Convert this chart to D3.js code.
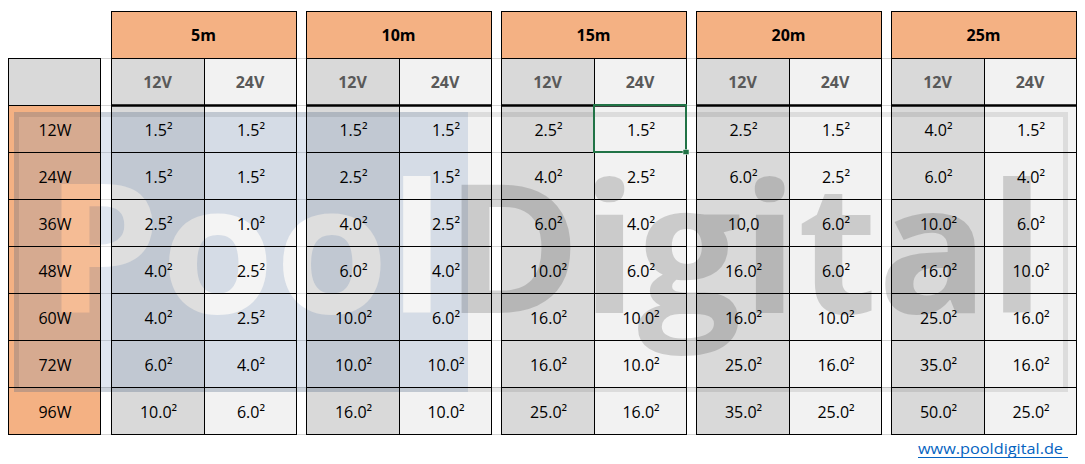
<!DOCTYPE html>
<html>
<head>
<meta charset="utf-8">
<script src="https://cdn.jsdelivr.net/npm/d3@7"></script>
<style>
body { margin: 0; background: #fff; }
text { font-family: "Open Sans", sans-serif; }
</style>
</head>
<body>
<svg id="chart" width="1085" height="464"></svg>
<script>
// table data (cable cross-section per lamp power / cable length / voltage)
var rowLabels = ["12W", "24W", "36W", "48W", "60W", "72W", "96W"];
var lengths = ["5m", "10m", "15m", "20m", "25m"];
var voltages = ["12V", "24V"];

// one list per length, top row to bottom row
var values12V = [
    ["1.5²", "1.5²", "2.5²", "4.0²", "4.0²", "6.0²", "10.0²"],
    ["1.5²", "2.5²", "4.0²", "6.0²", "10.0²", "10.0²", "16.0²"],
    ["2.5²", "4.0²", "6.0²", "10.0²", "16.0²", "16.0²", "25.0²"],
    ["2.5²", "6.0²", "10,0", "16.0²", "16.0²", "25.0²", "35.0²"],
    ["4.0²", "6.0²", "10.0²", "16.0²", "25.0²", "35.0²", "50.0²"]
];
var values24V = [
    ["1.5²", "1.5²", "1.0²", "2.5²", "2.5²", "4.0²", "6.0²"],
    ["1.5²", "1.5²", "2.5²", "4.0²", "6.0²", "10.0²", "10.0²"],
    ["1.5²", "2.5²", "4.0²", "6.0²", "10.0²", "10.0²", "16.0²"],
    ["1.5²", "2.5²", "6.0²", "6.0²", "10.0²", "16.0²", "25.0²"],
    ["1.5²", "4.0²", "6.0²", "10.0²", "16.0²", "16.0²", "25.0²"]
];
var watermarkWords = ["Pool", "Digital"];
var linkText = "www.pooldigital.de";
var selectedCell = {length: "15m", voltage: "24V", row: "12W"};

var orange = "#F4B183", gray = "#D9D9D9", light = "#F2F2F2";

var svg = d3.select("#chart");

var x = d3.scaleBand().domain(lengths).range([111, 1076]).paddingInner(10 / 195);
var xv = d3.scaleBand().domain(voltages).range([0, x.bandwidth()]);
var head = d3.scaleBand().domain(["length", "voltage"]).range([11, 105]);
var y = d3.scaleBand().domain(rowLabels).range([105, 434]);
var labelX = 8, labelW = 92;

// flatten the table into cells
var cells = [];
lengths.forEach(function(len, li) {
    voltages.forEach(function(v) {
        var vals = v === "12V" ? values12V[li] : values24V[li];
        rowLabels.forEach(function(r, ri) {
            cells.push({length: len, voltage: v, row: r, text: vals[ri]});
        });
    });
});
function cx(d) { return Math.round(x(d.length) + xv(d.voltage)); }
function cw(d) { return Math.round(x(d.length) + xv(d.voltage) + xv.bandwidth()) - cx(d); }

// faint sheet gridlines in the gaps
var gridG = svg.append("g");
var gaps = [[labelX + labelW, x(lengths[0])]];
lengths.slice(1).forEach(function(len, i) {
    gaps.push([x(lengths[i]) + x.bandwidth(), x(len)]);
});
var gridYs = [head("voltage"), y(rowLabels[0])].concat(rowLabels.map(function(r) { return y(r) + y.bandwidth(); }));
gaps.forEach(function(g) {
    gridG.selectAll(null).data(gridYs).enter().append("line")
        .attr("x1", g[0]).attr("x2", g[1])
        .attr("y1", function(d) { return d + 0.5; }).attr("y2", function(d) { return d + 0.5; })
        .attr("stroke", "#D4D4D4");
});

// fills
var fillG = svg.append("g");
fillG.selectAll(".hd").data(lengths).enter().append("rect")
    .attr("x", function(d) { return x(d); }).attr("y", head("length"))
    .attr("width", x.bandwidth()).attr("height", head.bandwidth())
    .attr("fill", orange);
var subs = [];
lengths.forEach(function(len) { voltages.forEach(function(v) { subs.push({length: len, voltage: v}); }); });
fillG.selectAll(".sub").data(subs).enter().append("rect")
    .attr("x", cx).attr("y", head("voltage"))
    .attr("width", cw).attr("height", head.bandwidth())
    .attr("fill", function(d) { return d.voltage === "12V" ? gray : light; });
fillG.selectAll(".cell").data(cells).enter().append("rect")
    .attr("x", cx).attr("y", function(d) { return y(d.row); })
    .attr("width", cw).attr("height", y.bandwidth())
    .attr("fill", function(d) { return d.voltage === "12V" ? gray : light; });
fillG.append("rect")
    .attr("x", labelX).attr("y", head("voltage")).attr("width", labelW).attr("height", head.bandwidth())
    .attr("fill", gray);
fillG.selectAll(".lab").data(rowLabels).enter().append("rect")
    .attr("x", labelX).attr("y", function(d) { return y(d); })
    .attr("width", labelW).attr("height", y.bandwidth())
    .attr("fill", orange);

// watermark picture laid over the sheet
var wmX = 14, wmY = 112, wmW = 1054, wmH = 280, blueW = 454;
var wmFont = {size: 180, x: 45, base: 313, len: 1000};
var defs = svg.append("defs");
var mask = defs.append("mask").attr("id", "poolHoles");
mask.append("rect").attr("width", 1085).attr("height", 464).attr("fill", "#fff");
var mt = mask.append("text")
    .attr("x", wmFont.x).attr("y", wmFont.base)
    .attr("textLength", wmFont.len).attr("lengthAdjust", "spacingAndGlyphs")
    .style("font-size", wmFont.size + "px").style("font-weight", 700);
mt.append("tspan").attr("fill", "#000").text(watermarkWords[0]);
mt.append("tspan").attr("fill", "#fff").text(watermarkWords[1]);

var wmG = svg.append("g");
wmG.append("rect")
    .attr("x", wmX).attr("y", wmY).attr("width", blueW).attr("height", wmH)
    .attr("fill", "rgb(116,146,190)").attr("fill-opacity", 0.23)
    .attr("mask", "url(#poolHoles)");
var wt = wmG.append("text")
    .attr("x", wmFont.x).attr("y", wmFont.base)
    .attr("textLength", wmFont.len).attr("lengthAdjust", "spacingAndGlyphs")
    .style("font-size", wmFont.size + "px").style("font-weight", 700);
wt.append("tspan").attr("fill", "#fff").attr("fill-opacity", 0.15).text(watermarkWords[0]);
wt.append("tspan").attr("fill", "#000").attr("fill-opacity", 0.16).text(watermarkWords[1]);
wmG.append("rect")
    .attr("x", wmX + 2.5).attr("y", wmY + 2.5).attr("width", wmW - 5).attr("height", wmH - 5)
    .attr("fill", "none").attr("stroke", "#000").attr("stroke-opacity", 0.09).attr("stroke-width", 5);

// borders
var lineG = svg.append("g").attr("fill", "none").attr("stroke", "#000");
lineG.selectAll(".hb").data(lengths).enter().append("rect")
    .attr("x", function(d) { return x(d) + 0.5; }).attr("y", head("length") + 0.5)
    .attr("width", x.bandwidth()).attr("height", head.bandwidth());
lineG.selectAll(".sb").data(subs).enter().append("rect")
    .attr("x", function(d) { return cx(d) + 0.5; }).attr("y", head("voltage") + 0.5)
    .attr("width", cw).attr("height", head.bandwidth());
lineG.selectAll(".cb").data(cells).enter().append("rect")
    .attr("x", function(d) { return cx(d) + 0.5; }).attr("y", function(d) { return y(d.row) + 0.5; })
    .attr("width", cw).attr("height", y.bandwidth());
lineG.append("rect")
    .attr("x", labelX + 0.5).attr("y", head("voltage") + 0.5).attr("width", labelW).attr("height", head.bandwidth());
lineG.selectAll(".lb").data(rowLabels).enter().append("rect")
    .attr("x", labelX + 0.5).attr("y", function(d) { return y(d) + 0.5; })
    .attr("width", labelW).attr("height", y.bandwidth());
// thick line under the voltage row
lineG.selectAll(".thick").data(lengths).enter().append("line")
    .attr("x1", function(d) { return x(d); }).attr("x2", function(d) { return x(d) + x.bandwidth() + 1; })
    .attr("y1", y(rowLabels[0]) + 0.5).attr("y2", y(rowLabels[0]) + 0.5)
    .attr("stroke-width", 2.5);

// selected cell (excel cursor)
var sel = cells.filter(function(d) {
    return d.length === selectedCell.length && d.voltage === selectedCell.voltage && d.row === selectedCell.row;
})[0];
svg.append("rect")
    .attr("x", cx(sel)).attr("y", y(sel.row))
    .attr("width", cw(sel)).attr("height", y.bandwidth())
    .attr("fill", "none").attr("stroke", "#217346").attr("stroke-width", 2);
svg.append("rect")
    .attr("x", cx(sel) + cw(sel) - 3).attr("y", y(sel.row) + y.bandwidth() - 2.5)
    .attr("width", 6).attr("height", 5)
    .attr("fill", "#217346").attr("stroke", "#fff").attr("stroke-width", 0.5);

// texts
var textG = svg.append("g").attr("text-anchor", "middle").style("font-size", "16px");
textG.selectAll(".ht").data(lengths).enter().append("text")
    .attr("x", function(d) { return x(d) + x.bandwidth() / 2; })
    .attr("y", head("length") + head.bandwidth() / 2 + 6)
    .style("font-weight", 700).attr("fill", "#000")
    .text(function(d) { return d; });
textG.selectAll(".st").data(subs).enter().append("text")
    .attr("x", function(d) { return cx(d) + cw(d) / 2; })
    .attr("y", head("voltage") + head.bandwidth() / 2 + 6.5)
    .style("font-weight", 700).attr("fill", "#595959")
    .text(function(d) { return d.voltage; });
textG.selectAll(".ct").data(cells).enter().append("text")
    .attr("x", function(d) { return cx(d) + cw(d) / 2 + 1; })
    .attr("y", function(d) { return y(d.row) + y.bandwidth() / 2 + 7; })
    .attr("fill", "#000")
    .text(function(d) { return d.text; });
textG.selectAll(".lt").data(rowLabels).enter().append("text")
    .attr("x", labelX + labelW / 2 + 1)
    .attr("y", function(d) { return y(d) + y.bandwidth() / 2 + 7; })
    .attr("fill", "#000")
    .text(function(d) { return d; });

// link at the bottom right
svg.append("text")
    .attr("x", 918).attr("y", 454)
    .attr("textLength", 145).attr("lengthAdjust", "spacingAndGlyphs")
    .style("font-size", "15px").attr("fill", "#0563C1")
    .text(linkText);
svg.append("line")
    .attr("x1", 918).attr("x2", 1068).attr("y1", 457.5).attr("y2", 457.5)
    .attr("stroke", "#0563C1");
</script>
</body>
</html>
